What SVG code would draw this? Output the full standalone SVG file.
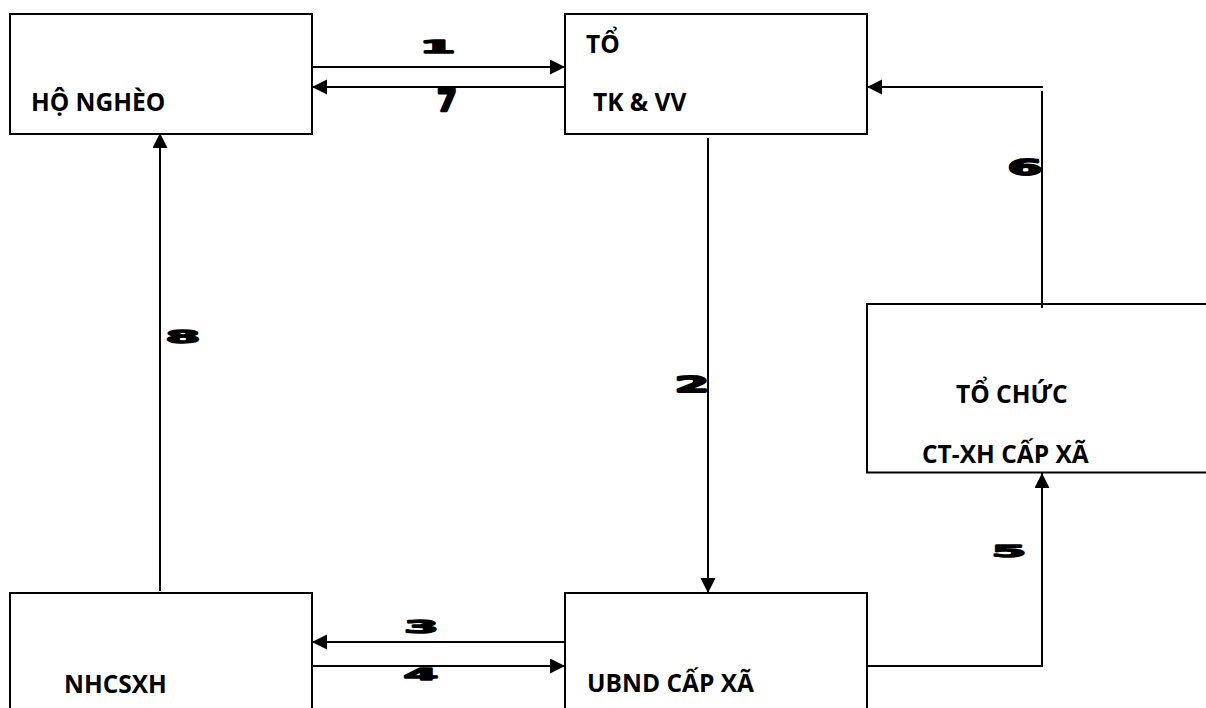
<svg xmlns="http://www.w3.org/2000/svg" width="1206" height="708" viewBox="0 0 1206 708">
<style>
.box{fill:#fff;stroke:#000;stroke-width:2}
.lbl{font-family:"Open Sans","DejaVu Sans",sans-serif;font-weight:700;font-size:24.5px;fill:#000}
.num{font-family:"DejaVu Sans",sans-serif;font-weight:700;font-size:19px;fill:#000;stroke:#000;stroke-width:1.6;stroke-linejoin:round;text-anchor:middle}
.con{fill:none;stroke:#000;stroke-width:2}
</style>
<defs>
<marker id="ah" markerUnits="userSpaceOnUse" markerWidth="16" markerHeight="16" refX="15" refY="7.5" orient="auto" viewBox="0 0 16 16">
<path d="M0,0 L15,7.5 L0,15 z" fill="#000"/>
</marker>
</defs>
<rect width="1206" height="708" fill="#fff"/>
<g id="node-ho-ngheo">
<rect class="box" x="10" y="14" width="302" height="120"/>
<text class="lbl" x="31" y="111">HỘ NGHÈO</text>
</g>
<g id="node-to-tkvv">
<rect class="box" x="565" y="14" width="302" height="120"/>
<text class="lbl" x="586" y="52.5">TỔ</text>
<text class="lbl" x="593" y="111">TK &amp; VV</text>
</g>
<g id="node-to-chuc">
<rect class="box" x="867" y="304" width="400" height="168.5"/>
<text class="lbl" x="956" y="402.5">TỔ CHỨC</text>
<text class="lbl" x="922" y="462.5">CT-XH CẤP XÃ</text>
</g>
<g id="node-nhcsxh">
<rect class="box" x="10" y="593" width="302" height="200"/>
<text class="lbl" x="64" y="692.5">NHCSXH</text>
</g>
<g id="node-ubnd">
<rect class="box" x="565" y="593" width="302" height="200"/>
<text class="lbl" x="587" y="692">UBND CẤP XÃ</text>
</g>
<g id="connectors">
<line class="con" x1="312" y1="67" x2="565" y2="67" marker-end="url(#ah)"/>
<line class="con" x1="565" y1="87" x2="312" y2="87" marker-end="url(#ah)"/>
<line class="con" x1="708" y1="138" x2="708" y2="593" marker-end="url(#ah)"/>
<line class="con" x1="565" y1="642" x2="312" y2="642" marker-end="url(#ah)"/>
<line class="con" x1="312" y1="666" x2="565" y2="666" marker-end="url(#ah)"/>
<polyline class="con" points="867,666 1042,666 1042,473" marker-end="url(#ah)"/>
<line class="con" x1="1042" y1="91" x2="1042" y2="308"/>
<line class="con" x1="1043" y1="87" x2="867" y2="87" marker-end="url(#ah)"/>
<line class="con" x1="160" y1="591" x2="160" y2="133" marker-end="url(#ah)"/>
<text class="num" transform="translate(437.5,52.5) scale(2.7,0.95)">1</text>
<text class="num" transform="translate(447,111) scale(1.5,1.6)">7</text>
<text class="num" transform="translate(692,391.5) scale(2.6,1.1)">2</text>
<text class="num" transform="translate(421.5,632.5) scale(2.6,0.9)">3</text>
<text class="num" transform="translate(421,679.5) scale(2.6,0.85)">4</text>
<text class="num" transform="translate(1009,556.5) scale(2.6,0.85)">5</text>
<text class="num" transform="translate(1025,174.5) scale(2.6,1.15)">6</text>
<text class="num" transform="translate(183,342.5) scale(2.6,0.9)">8</text>
</g>
</svg>
